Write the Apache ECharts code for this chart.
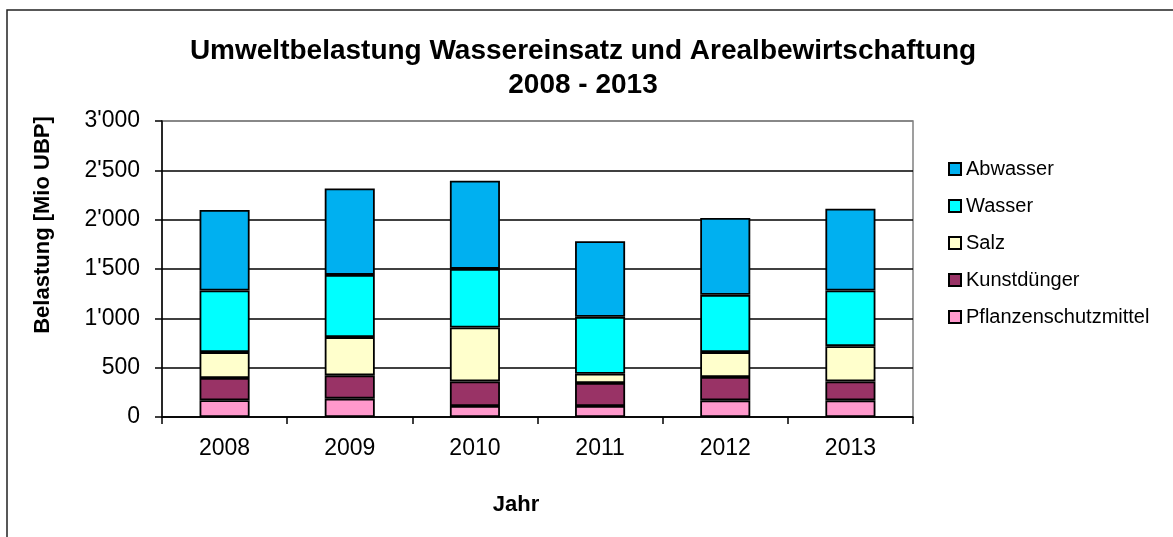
<!DOCTYPE html>
<html>
<head>
<meta charset="utf-8">
<title>Umweltbelastung Wassereinsatz und Arealbewirtschaftung</title>
<script src="https://cdn.jsdelivr.net/npm/echarts@6/dist/echarts.min.js"></script>
<style>
  html, body { margin: 0; padding: 0; background: #fff; }
  #chart { width: 1173px; height: 537px; }
</style>
</head>
<body>
<div id="chart"></div>
<script>
// Daten (Mio UBP)
const years = ['2008', '2009', '2010', '2011', '2012', '2013'];
const pflanzenschutz = [170, 186, 111, 111, 169, 169];
const kunstduenger = [225, 236, 250, 233, 236, 192];
const salz = [263, 388, 546, 94, 253, 357];
const wasser = [624, 630, 594, 577, 580, 564];
const abwasser = [816, 877, 894, 766, 779, 829];
const yTicks = [0, 500, 1000, 1500, 2000, 2500, 3000];

const font = '"Liberation Sans", Arial, sans-serif';

// 3000 -> 3'000
const fmtThousands = v => v >= 1000
  ? Math.floor(v / 1000) + "'" + String(v % 1000).padStart(3, '0')
  : String(v);

const barSeries = (name, data, color) => ({
  name: name,
  type: 'bar',
  stack: 'total',
  barWidth: '40%',
  data: data,
  itemStyle: { color: color, borderColor: '#000', borderWidth: 1.8 }
});

const chart = echarts.init(document.getElementById('chart'));

chart.setOption({
  animation: false,
  backgroundColor: '#fff',
  textStyle: { fontFamily: font },
  title: {
    text: 'Umweltbelastung Wassereinsatz und Arealbewirtschaftung\n2008 - 2013',
    left: 578,
    top: 29,
    textAlign: 'center',
    textStyle: { fontFamily: font, fontSize: 28, fontWeight: 'bold', color: '#000', lineHeight: 34 }
  },
  graphic: [{
    type: 'rect',
    shape: { x: 7, y: 10, width: 1200, height: 600 },
    style: { fill: 'none', stroke: '#222', lineWidth: 1.5 },
    silent: true
  }],
  legend: {
    orient: 'vertical',
    left: 943,
    top: 154,
    itemWidth: 12,
    itemHeight: 12,
    itemGap: 17,
    icon: 'rect',
    data: ['Abwasser', 'Wasser', 'Salz', 'Kunstdünger', 'Pflanzenschutzmittel'],
    textStyle: { fontFamily: font, fontSize: 20, color: '#000', lineHeight: 20 }
  },
  grid: {
    left: 162, right: 260, top: 121, bottom: 120,
    show: true, borderColor: '#808080', borderWidth: 1.5
  },
  xAxis: {
    type: 'category',
    data: years,
    name: 'Jahr',
    nameLocation: 'middle',
    nameGap: 77,
    nameTextStyle: { fontFamily: font, fontSize: 22, fontWeight: 'bold', color: '#000', padding: [0, 43, 0, 0] },
    axisLine: { lineStyle: { color: '#000', width: 1.5 } },
    axisTick: { show: true, length: 7, lineStyle: { color: '#000', width: 1.5 } },
    axisLabel: { color: '#000', fontSize: 23, margin: 20 }
  },
  yAxis: {
    type: 'value',
    min: yTicks[0],
    max: yTicks[yTicks.length - 1],
    interval: 500,
    name: 'Belastung [Mio UBP]',
    nameLocation: 'middle',
    nameRotate: 90,
    nameGap: 108,
    nameTextStyle: { fontFamily: font, fontSize: 22, fontWeight: 'bold', color: '#000', padding: [0, 0, 0, 88] },
    axisLine: { show: true, lineStyle: { color: '#000', width: 1.5 } },
    axisTick: { show: true, length: 7, lineStyle: { color: '#000', width: 1.5 } },
    axisLabel: { color: '#000', fontSize: 23, margin: 22, formatter: fmtThousands },
    splitLine: {
      lineStyle: {
        color: ['#000', '#000', '#000', '#000', '#000', '#000', '#808080'],
        width: 1.5
      }
    }
  },
  series: [
    barSeries('Pflanzenschutzmittel', pflanzenschutz, '#FF99CC'),
    barSeries('Kunstdünger', kunstduenger, '#993366'),
    barSeries('Salz', salz, '#FFFFCC'),
    barSeries('Wasser', wasser, '#00FFFF'),
    barSeries('Abwasser', abwasser, '#00B0F0')
  ]
});
</script>
</body>
</html>
